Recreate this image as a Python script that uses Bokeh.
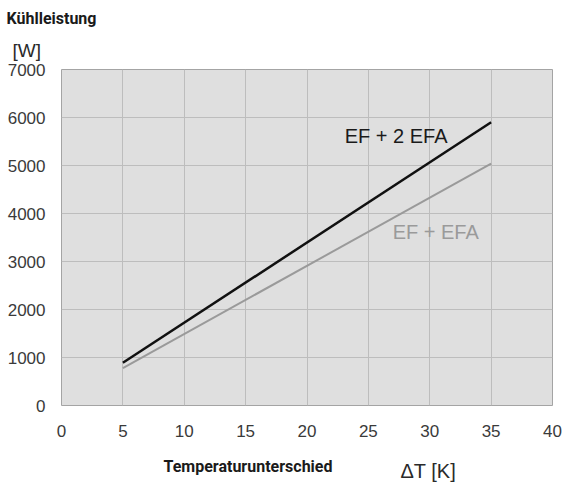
from bokeh.plotting import figure
from bokeh.models import Label, Range1d, FixedTicker, Title
from bokeh.layouts import column
from bokeh.embed import file_html
from bokeh.resources import INLINE

# data
dt_k = [5, 35]
ef_2efa = [890, 5900]
ef_efa = [780, 5040]
x_ticks = [0, 5, 10, 15, 20, 25, 30, 35, 40]
y_ticks = [0, 1000, 2000, 3000, 4000, 5000, 6000, 7000]

p = figure(frame_width=491, frame_height=336,
           min_border_left=61, min_border_right=13, min_border_top=69, min_border_bottom=35,
           x_range=Range1d(0, 40), y_range=Range1d(0, 7000),
           output_backend="svg", toolbar_location=None)
p.background_fill_color = "#dfdfdf"
p.border_fill_color = "white"
p.outline_line_color = "#a4a4a4"
p.outline_line_width = 1

for ax in (p.xaxis[0], p.yaxis[0]):
    ax.axis_line_color = None
    ax.major_tick_line_color = None
    ax.minor_tick_line_color = None
    ax.major_label_text_font = "Liberation Sans"
    ax.major_label_text_font_size = "17px"
    ax.major_label_text_color = "#3a3a3a"
p.xaxis.ticker = FixedTicker(ticks=x_ticks)
p.yaxis.ticker = FixedTicker(ticks=y_ticks)
p.xaxis.major_label_standoff = 13
p.yaxis.major_label_standoff = 10

p.xgrid.ticker = FixedTicker(ticks=x_ticks)
p.ygrid.ticker = FixedTicker(ticks=y_ticks)
p.grid.grid_line_color = "#bdbdbd"
p.grid.grid_line_width = 1

p.line(dt_k, ef_efa, line_color="#9a9a9a", line_width=2)
p.line(dt_k, ef_2efa, line_color="#111111", line_width=2.5)

p.add_layout(Label(x=23.07, y=5625, text="EF + 2 EFA", text_font="Liberation Sans",
                   text_font_size="20px", text_color="#1a1a1a", text_baseline="alphabetic"))
p.add_layout(Label(x=26.98, y=3615, text="EF + EFA", text_font="Liberation Sans",
                   text_font_size="20px", text_color="#9a9a9a", text_baseline="alphabetic"))

# texts above the frame as titles
p.add_layout(Title(text="[W]", align="left", offset=-49, text_font="Liberation Sans",
                   text_font_size="19px", text_font_style="normal", text_color="#2a2a2a",
                   standoff=18), "above")
p.add_layout(Title(text="Kühlleistung", align="left", offset=-55, text_font="Roboto",
                   text_font_size="16px", text_font_style="bold", text_color="#1a1a1a",
                   standoff=2), "above")

# strip below the chart for the x axis caption
p2 = figure(width=565, height=42, min_border=0, x_range=Range1d(0, 1), y_range=Range1d(0, 1),
            x_axis_type=None, y_axis_type=None, output_backend="svg", toolbar_location=None)
p2.grid.visible = False
p2.outline_line_color = None
p2.background_fill_color = "white"
p2.add_layout(Label(x=102, y=16, x_units="screen", y_units="screen", text="Temperaturunterschied",
                    text_font="Roboto", text_font_size="16px", text_font_style="bold",
                    text_color="#1a1a1a", text_baseline="alphabetic"))
p2.add_layout(Label(x=339, y=12, x_units="screen", y_units="screen", text="ΔT [K]",
                    text_font="Liberation Sans", text_font_size="20px",
                    text_color="#2a2a2a", text_baseline="alphabetic"))

layout = column(p, p2, spacing=0)
open("out.html", "w").write(file_html(layout, INLINE))
